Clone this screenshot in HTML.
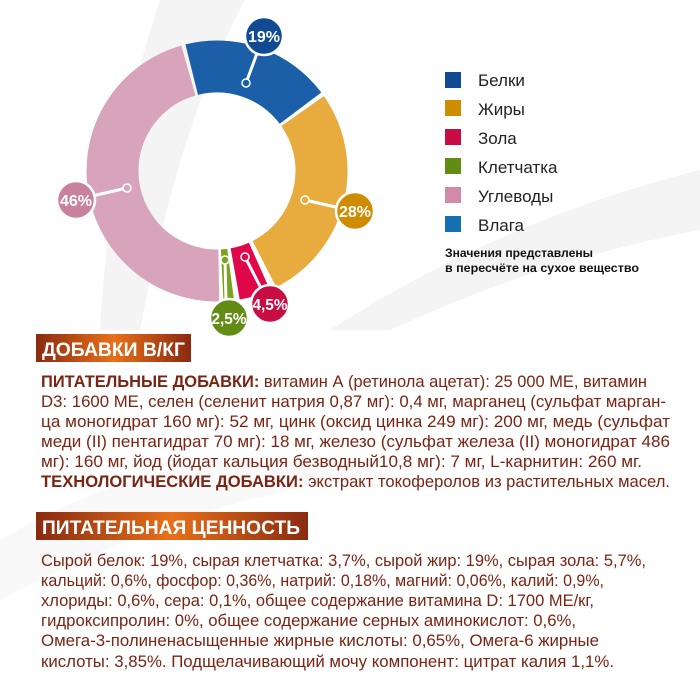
<!DOCTYPE html>
<html><head><meta charset="utf-8"><style>
html,body{margin:0;padding:0;background:#fff}
svg{display:block}
</style></head><body>
<svg width="700" height="700" viewBox="0 0 700 700" xmlns="http://www.w3.org/2000/svg" font-family="'Liberation Sans', sans-serif">
<defs>
<linearGradient id="bn" x1="0" x2="1" y1="0" y2="0">
<stop offset="0" stop-color="#8a2a10"/><stop offset="0.5" stop-color="#e8701a"/><stop offset="1" stop-color="#8a2a10"/>
</linearGradient>
</defs>
<rect width="700" height="700" fill="#fff"/>
<!-- background swooshes -->
<path d="M160 0 L245 0 Q180 120 140 330 L100 330 Q110 150 160 0Z" fill="#f4f4f5"/>
<path d="M700 170 Q500 220 330 330 L390 330 Q540 260 700 230Z" fill="#f4f4f5"/>
<path d="M0 540 Q200 420 420 480 Q250 470 0 600Z" fill="#f9f9f9"/>

<!-- donut -->
<g transform="translate(217,171)" fill="none" stroke-width="52">
<circle r="104.5" stroke="#1a5fa8" stroke-dasharray="122.2 1000" transform="rotate(-104)"/>
<circle r="104.5" stroke="#e8ac3e" stroke-dasharray="178.7 1000" transform="rotate(-35)"/>
<circle r="104.5" stroke="#e0064a" stroke-dasharray="25.5 1000" transform="rotate(66)"/>
<circle r="104.5" stroke="#7aa21c" stroke-dasharray="8.5 1000" transform="rotate(82.5)"/>
<circle r="104.5" stroke="#d8a4bc" stroke-dasharray="301 1000" transform="rotate(89)"/>
</g>

<!-- connectors -->
<g stroke="#fff" stroke-width="3" fill="none">
<line x1="246" y1="83" x2="259" y2="48"/>
<line x1="305" y1="200" x2="340" y2="208"/>
<line x1="245" y1="257" x2="262" y2="290"/>
<line x1="225" y1="260" x2="226" y2="302"/>
<line x1="127" y1="188" x2="92" y2="196"/>
</g>
<g stroke="#fff" stroke-width="1.5">
<circle cx="246" cy="83" r="4" fill="#1a5fa8"/>
<circle cx="305" cy="200" r="4" fill="#e8ac3e"/>
<circle cx="245" cy="257" r="4" fill="#e0064a"/>
<circle cx="225" cy="260" r="4" fill="#7aa21c"/>
<circle cx="127" cy="188" r="4" fill="#d8a4bc"/>
</g>
<g stroke="#fff" stroke-width="2.5">
<circle cx="264" cy="36" r="19" fill="#0f4a92"/>
<circle cx="355" cy="211" r="19" fill="#d08c00"/>
<circle cx="270" cy="304" r="19" fill="#c80c44"/>
<circle cx="229" cy="318" r="19" fill="#628c14"/>
<circle cx="76" cy="200" r="19" fill="#c9829e"/>
</g>
<g fill="#fff" font-weight="bold" font-size="16" text-anchor="middle">
<text x="264" y="42" textLength="32" lengthAdjust="spacingAndGlyphs">19%</text>
<text x="355" y="217" textLength="32" lengthAdjust="spacingAndGlyphs">28%</text>
<text x="270" y="310" textLength="35" lengthAdjust="spacingAndGlyphs">4,5%</text>
<text x="229" y="324" textLength="35" lengthAdjust="spacingAndGlyphs">2,5%</text>
<text x="76" y="206" textLength="32" lengthAdjust="spacingAndGlyphs">46%</text>
</g>

<!-- legend -->
<rect x="445" y="72" width="16" height="16" fill="#0f4a92"/>
<rect x="445" y="100" width="16" height="16" fill="#d08c00"/>
<rect x="445" y="129" width="16" height="16" fill="#c80c44"/>
<rect x="445" y="158" width="16" height="16" fill="#628c14"/>
<rect x="445" y="187" width="16" height="16" fill="#d08aaa"/>
<rect x="445" y="216" width="16" height="16" fill="#1470b0"/>
<g font-size="17" fill="#222">
<text x="478" y="86">Белки</text>
<text x="478" y="115">Жиры</text>
<text x="478" y="144">Зола</text>
<text x="478" y="173">Клетчатка</text>
<text x="478" y="202">Углеводы</text>
<text x="478" y="231">Влага</text>
</g>
<g font-size="11.5" font-weight="bold" fill="#111">
<text x="445" y="257" textLength="148" lengthAdjust="spacingAndGlyphs">Значения представлены</text>
<text x="445" y="272" textLength="194" lengthAdjust="spacingAndGlyphs">в пересчёте на сухое вещество</text>
</g>

<!-- banners -->
<rect x="36" y="334" width="155" height="28" fill="url(#bn)"/>
<text x="42" y="356" fill="#fff" font-weight="bold" font-size="19" textLength="143" lengthAdjust="spacingAndGlyphs">ДОБАВКИ В/КГ</text>
<rect x="36" y="512" width="272" height="28" fill="url(#bn)"/>
<text x="42" y="534" fill="#fff" font-weight="bold" font-size="19" textLength="258" lengthAdjust="spacingAndGlyphs">ПИТАТЕЛЬНАЯ ЦЕННОСТЬ</text>

<g font-size="16.5" fill="#7a2414">
<text x="41" y="387" textLength="606" lengthAdjust="spacingAndGlyphs"><tspan font-weight="bold">ПИТАТЕЛЬНЫЕ ДОБАВКИ:</tspan> витамин А (ретинола ацетат): 25 000 МЕ, витамин</text>
<text x="41" y="407" textLength="625" lengthAdjust="spacingAndGlyphs">D3: 1600 МЕ, селен (селенит натрия 0,87 мг): 0,4 мг, марганец (сульфат марган-</text>
<text x="41" y="427" textLength="629" lengthAdjust="spacingAndGlyphs">ца моногидрат 160 мг): 52 мг, цинк (оксид цинка 249 мг): 200 мг, медь (сульфат</text>
<text x="41" y="447" textLength="629" lengthAdjust="spacingAndGlyphs">меди (II) пентагидрат 70 мг): 18 мг, железо (сульфат железа (II) моногидрат 486</text>
<text x="41" y="467" textLength="601" lengthAdjust="spacingAndGlyphs">мг): 160 мг, йод (йодат кальция безводный10,8 мг): 7 мг, L-карнитин: 260 мг.</text>
<text x="41" y="487" textLength="629" lengthAdjust="spacingAndGlyphs"><tspan font-weight="bold">ТЕХНОЛОГИЧЕСКИЕ ДОБАВКИ:</tspan> экстракт токоферолов из растительных масел.</text>

<text x="41" y="566" textLength="605" lengthAdjust="spacingAndGlyphs">Сырой белок: 19%, сырая клетчатка: 3,7%, сырой жир: 19%, сырая зола: 5,7%,</text>
<text x="41" y="586" textLength="563" lengthAdjust="spacingAndGlyphs">кальций: 0,6%, фосфор: 0,36%, натрий: 0,18%, магний: 0,06%, калий: 0,9%,</text>
<text x="41" y="606" textLength="553" lengthAdjust="spacingAndGlyphs">хлориды: 0,6%, сера: 0,1%, общее содержание витамина D: 1700 МЕ/кг,</text>
<text x="41" y="626" textLength="535" lengthAdjust="spacingAndGlyphs">гидроксипролин: 0%, общее содержание серных аминокислот: 0,6%,</text>
<text x="41" y="646" textLength="558" lengthAdjust="spacingAndGlyphs">Омега-3-полиненасыщенные жирные кислоты: 0,65%, Омега-6 жирные</text>
<text x="41" y="667" textLength="573" lengthAdjust="spacingAndGlyphs">кислоты: 3,85%. Подщелачивающий мочу компонент: цитрат калия 1,1%.</text>
</g>
</svg>
</body></html>
